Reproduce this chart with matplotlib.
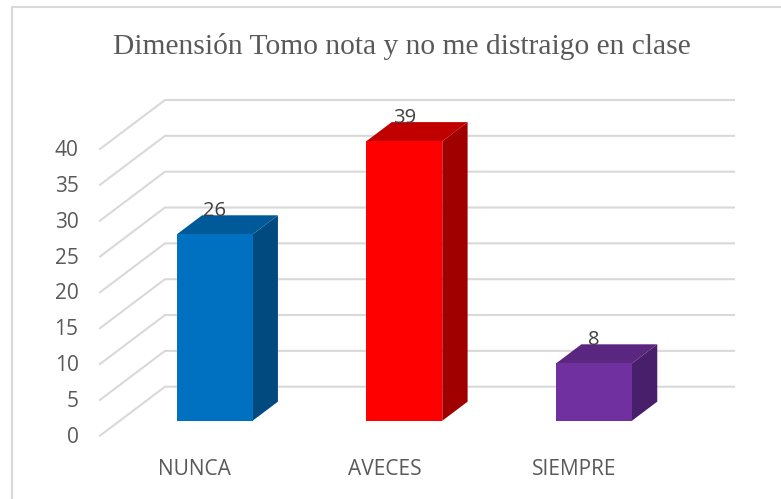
import matplotlib
matplotlib.use("Agg")
import matplotlib.pyplot as plt
from matplotlib.patches import Polygon, Rectangle
from matplotlib.transforms import ScaledTranslation

categories = ["NUNCA", "AVECES", "SIEMPRE"]
values = [26, 39, 8]
y_ticks = [0, 5, 10, 15, 20, 25, 30, 35, 40]

front_colors = ["#0070C0", "#FF0000", "#7030A0"]
top_colors = ["#005A9A", "#C00000", "#5A2680"]
side_colors = ["#004A80", "#A00000", "#471F6A"]

W, H = 781, 499
fig = plt.figure(figsize=(W / 100, H / 100), dpi=100)

# marco del grafico
fig.add_artist(Rectangle((11.5 / W, -0.1), 1.0, 1 - 7.5 / H + 0.1, transform=fig.transFigure,
                         fc="white", ec="#D9D9D9", lw=1.5, zorder=-1))

# ejes = plano frontal de la caja 3D
ax = fig.add_axes([100 / W, 1 - 435.7 / H, 569 / W, 286.7 / H])
ax.set_xlim(-0.5, 2.5)
ax.set_ylim(0, 40)
ax.patch.set_alpha(0)
for s in ax.spines.values():
    s.set_visible(False)

# proyeccion de profundidad en unidades de datos
dx = 65 / 189.7
dy = 49 / 7.1675
d0, d1 = 0.305, 0.695
bw = 0.4

xmin, xmax = ax.get_xlim()
for v in y_ticks:
    ax.plot([xmin, xmin + dx, xmax + dx], [v, v + dy, v + dy], color="#D9D9D9", lw=1.5,
            clip_on=False, zorder=1, solid_joinstyle="miter")

for i, v in enumerate(values):
    xl = i - bw / 2 + d0 * dx
    xr = i + bw / 2 + d0 * dx
    yb = d0 * dy
    yt = v + d0 * dy
    ddx = (d1 - d0) * dx
    ddy = (d1 - d0) * dy
    ax.add_patch(Polygon([(xr, yb), (xr + ddx, yb + ddy), (xr + ddx, yt + ddy), (xr, yt)],
                         fc=side_colors[i], ec="none", clip_on=False, zorder=3))
    ax.add_patch(Polygon([(xl, yt), (xr, yt), (xr + ddx, yt + ddy), (xl + ddx, yt + ddy)],
                         fc=top_colors[i], ec="none", clip_on=False, zorder=3))
    ax.add_patch(Rectangle((xl, yb), xr - xl, v, fc=front_colors[i], ec="none",
                           clip_on=False, zorder=4))
    ax.annotate(str(v), xy=(i + d0 * dx, yt), xytext=(0, 17), textcoords="offset points",
                ha="center", va="center", fontsize=14.5, color="#404040",
                family="Open Sans", zorder=5, annotation_clip=False)

ax.set_xticks(range(len(categories)))
ax.set_xticklabels(categories, family="Open Sans", fontsize=15, color="#595959")
ax.set_yticks(y_ticks)
ax.set_yticklabels([str(v) for v in y_ticks], family="Open Sans", fontsize=15, color="#595959")
ax.tick_params(axis="both", length=0)
ax.tick_params(axis="x", pad=17)
ax.tick_params(axis="y", pad=15.5)

# las etiquetas del eje y van un poco mas arriba que las lineas
shift = ScaledTranslation(0, 0.7 / 72, fig.dpi_scale_trans)
for lab in ax.get_yticklabels():
    lab.set_transform(lab.get_transform() + shift)

fig.text(402 / W, 1 - 46 / H, "Dimensión Tomo nota y no me distraigo en clase",
         family="Liberation Serif", fontsize=21.25, color="#595959", ha="center", va="center")

fig.savefig("out.png", dpi=100)
plt.close(fig)
